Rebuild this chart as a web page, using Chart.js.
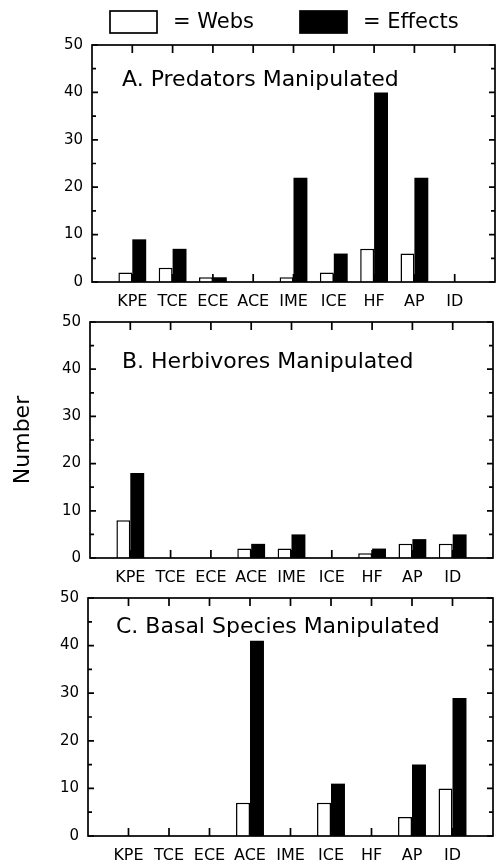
<!DOCTYPE html>
<html>
<head>
<meta charset="utf-8">
<script src="https://cdn.jsdelivr.net/npm/chart.js@4.4.1/dist/chart.umd.min.js"></script>
<style>
  body { margin: 0; background: #fff; width: 496px; height: 865px; position: relative; overflow: hidden; }
  canvas { position: absolute; left: 0; }
</style>
</head>
<body>
<canvas id="chartA" width="496" height="312" style="top:0"></canvas>
<canvas id="chartB" width="496" height="276" style="top:312px"></canvas>
<canvas id="chartC" width="496" height="277" style="top:588px"></canvas>
<script>
// data
const categories = ['KPE', 'TCE', 'ECE', 'ACE', 'IME', 'ICE', 'HF', 'AP', 'ID'];
const yTicks = [0, 10, 20, 30, 40, 50];
const seriesNames = ['Webs', 'Effects'];

const predWebs = [2, 3, 1, 0, 1, 2, 7, 6, 0];
const predEffects = [9, 7, 1, 0, 22, 6, 40, 22, 0];
const herbWebs = [8, 0, 0, 2, 2, 0, 1, 3, 3];
const herbEffects = [18, 0, 0, 3, 5, 0, 2, 4, 5];
const basalWebs = [0, 0, 0, 7, 0, 7, 0, 4, 10];
const basalEffects = [0, 0, 0, 41, 0, 11, 0, 15, 29];

Chart.defaults.font.family = "'DejaVu Sans', sans-serif";
Chart.defaults.color = '#000';

// empty slot at each end so the first/last category sit one step inside the frame
const padded = arr => [null, ...arr, null];
const xLabels = ['', ...categories, ''];

// frame with inward ticks + panel heading
const framePlugin = {
  id: 'frame',
  afterDraw(chart, args, opts) {
    const { ctx, chartArea: a, scales: { x, y } } = chart;
    ctx.save();
    ctx.strokeStyle = '#000';
    ctx.lineWidth = 1.7;
    ctx.strokeRect(a.left, a.top, a.right - a.left, a.bottom - a.top);
    ctx.beginPath();
    for (let v = 0; v <= 50; v += 5) {
      const py = y.getPixelForValue(v);
      const len = v % 10 === 0 ? 6 : 4;
      ctx.moveTo(a.left, py); ctx.lineTo(a.left + len, py);
      ctx.moveTo(a.right, py); ctx.lineTo(a.right - len, py);
    }
    categories.forEach((c, i) => {
      const px = x.getPixelForValue(i + 1);
      ctx.moveTo(px, a.top); ctx.lineTo(px, a.top + 8);
      ctx.moveTo(px, a.bottom); ctx.lineTo(px, a.bottom - 8);
    });
    ctx.stroke();

    ctx.fillStyle = '#000';
    ctx.font = "22px 'DejaVu Sans', sans-serif";
    ctx.textBaseline = 'middle';
    ctx.textAlign = 'left';
    ctx.fillText(opts.text, a.left + opts.dx, a.top + opts.dy);
    ctx.restore();
  }
};

// legend above the top panel: [box] = Webs    [box] = Effects
const keyPlugin = {
  id: 'key',
  afterDraw(chart, args, opts) {
    if (!opts.show) return;
    const { ctx } = chart;
    ctx.save();
    ctx.font = "21px 'DejaVu Sans', sans-serif";
    ctx.textBaseline = 'middle';
    ctx.textAlign = 'left';
    ctx.lineWidth = 1.7;
    let xpos = opts.x;
    chart.data.datasets.forEach(ds => {
      ctx.fillStyle = ds.backgroundColor;
      ctx.fillRect(xpos, opts.y, 47, 22);
      ctx.strokeStyle = '#000';
      ctx.strokeRect(xpos, opts.y, 47, 22);
      xpos += 47 + 16;
      const txt = '= ' + ds.label;
      ctx.fillStyle = '#000';
      ctx.fillText(txt, xpos, opts.y + 12);
      xpos += ctx.measureText(txt).width + 46;
    });
    ctx.restore();
  }
};

function makePanel(id, title, webs, effects, p) {
  return new Chart(document.getElementById(id), {
    type: 'bar',
    data: {
      labels: xLabels,
      datasets: [
        { label: seriesNames[0], data: padded(webs), backgroundColor: '#fff', borderColor: '#000', borderWidth: 1.5, borderSkipped: 'start' },
        { label: seriesNames[1], data: padded(effects), backgroundColor: '#000', borderColor: '#000', borderWidth: 0 }
      ]
    },
    options: {
      responsive: false,
      animation: false,
      devicePixelRatio: 1,
      categoryPercentage: 0.69,
      barPercentage: 1.0,
      layout: { padding: { top: p.top, right: p.right, bottom: 0, left: 0 } },
      plugins: {
        legend: { display: false },
        tooltip: { enabled: false },
        frame: { text: title, dx: p.dx, dy: p.dy },
        key: { show: !!p.key, x: 110, y: 11 }
      },
      scales: {
        x: {
          type: 'category',
          offset: false,
          grid: { display: false, drawTicks: false },
          border: { display: false },
          ticks: { padding: 10, autoSkip: false, maxRotation: 0, font: { size: 16 }, color: '#000' },
          afterFit: s => { s.height = p.xh; s.paddingLeft = 0; s.paddingRight = 0; }
        },
        y: {
          min: 0,
          max: 50,
          afterBuildTicks: s => { s.ticks = yTicks.map(v => ({ value: v })); },
          grid: { display: false, drawTicks: false },
          border: { display: false },
          ticks: { padding: 9, font: { size: 15 }, color: '#000' },
          title: { display: !!p.ytitle, text: p.ytitle || '', font: { size: 22 }, padding: { top: 10, bottom: 0 }, color: '#000' },
          afterFit: s => { s.width = p.left; s.paddingTop = 0; s.paddingBottom = 0; }
        }
      }
    },
    plugins: [framePlugin, keyPlugin]
  });
}

makePanel('chartA', 'A. Predators Manipulated', predWebs, predEffects,
  { top: 45, right: 1, left: 92, xh: 30, dx: 30, dy: 35, key: true });
makePanel('chartB', 'B. Herbivores Manipulated', herbWebs, herbEffects,
  { top: 10, right: 3, left: 90, xh: 30, dx: 32, dy: 40, ytitle: 'Number' });
makePanel('chartC', 'C. Basal Species Manipulated', basalWebs, basalEffects,
  { top: 10, right: 3, left: 88, xh: 29, dx: 28, dy: 29 });
</script>
</body>
</html>
